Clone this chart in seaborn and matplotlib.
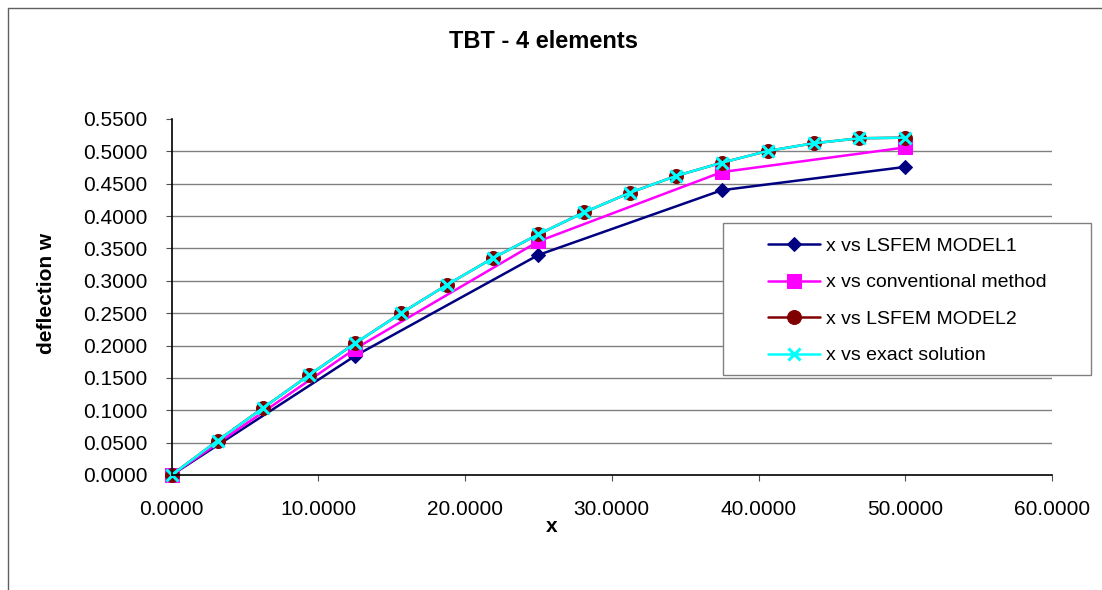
import matplotlib
matplotlib.use('Agg')
import matplotlib.pyplot as plt
import seaborn as sns
from matplotlib.patches import Rectangle
from matplotlib.lines import Line2D

# ---- data ----
x_coarse = [0.0, 12.5, 25.0, 37.5, 50.0]
x_fine = [0.0, 3.125, 6.25, 9.375, 12.5, 15.625, 18.75, 21.875, 25.0,
          28.125, 31.25, 34.375, 37.5, 40.625, 43.75, 46.875, 50.0]
lsfem_model1 = [0.0, 0.184, 0.340, 0.440, 0.476]
conventional = [0.0, 0.195, 0.361, 0.468, 0.506]
lsfem_model2 = [0.0, 0.053, 0.104, 0.1545, 0.2035, 0.2498, 0.2936, 0.3348, 0.3719,
                0.4059, 0.4362, 0.4620, 0.4825, 0.5006, 0.5125, 0.5202, 0.5212]
exact_solution = [0.0, 0.053, 0.104, 0.1545, 0.2035, 0.2498, 0.2936, 0.3348, 0.3719,
                  0.4059, 0.4362, 0.4620, 0.4825, 0.5006, 0.5125, 0.5202, 0.5212]
x_ticks = [0, 10, 20, 30, 40, 50, 60]
y_ticks = [0.0, 0.05, 0.10, 0.15, 0.20, 0.25, 0.30, 0.35, 0.40, 0.45, 0.50, 0.55]
series_labels = ["x vs LSFEM MODEL1", "x vs conventional method",
                 "x vs LSFEM MODEL2", "x vs exact solution"]

sns.set_theme(style='white')
plt.rcParams['font.family'] = ['Liberation Sans', 'DejaVu Sans']
plt.rcParams['text.color'] = 'black'
plt.rcParams['axes.labelcolor'] = 'black'
plt.rcParams['xtick.color'] = 'black'
plt.rcParams['ytick.color'] = 'black'

W, H = 1102, 590
fig = plt.figure(figsize=(W / 100, H / 100), dpi=100)
fig.patch.set_facecolor('white')


def fx(px):
    return px / W


def fy(py):
    return 1 - py / H


L, R, T, B = 171.7, 1051.9, 119.0, 475.0
ax = fig.add_axes([fx(L), fy(B), (R - L) / W, (B - T) / H])
ax.set_facecolor('white')

sns.lineplot(x=x_coarse, y=lsfem_model1, ax=ax, color='#000080', marker='D',
             markersize=7, markeredgecolor='#000080', linewidth=1.8,
             label=series_labels[0], clip_on=False)
sns.lineplot(x=x_coarse, y=conventional, ax=ax, color='#FF00FF', marker='s',
             markersize=9.5, markeredgecolor='#FF00FF', linewidth=1.8,
             label=series_labels[1], clip_on=False)
sns.lineplot(x=x_fine, y=lsfem_model2, ax=ax, color='#800000', marker='o',
             markersize=10, markeredgecolor='#800000', linewidth=1.8,
             label=series_labels[2], clip_on=False)
sns.lineplot(x=x_fine, y=exact_solution, ax=ax, color='#00FFFF', marker='x',
             markersize=9, markeredgecolor='#00FFFF', markeredgewidth=2.2,
             linewidth=1.8, label=series_labels[3], clip_on=False)

ax.set_xlim(0, 60)
ax.set_ylim(0, 0.55)
ax.set_xticks(x_ticks)
ax.set_xticklabels([f'{v:.4f}' for v in x_ticks], fontsize=15, color='black')
ax.set_yticks(y_ticks)
ax.set_yticklabels([f'{v:.4f}' for v in y_ticks], fontsize=15, color='black')
ax.set_xlabel('')
ax.set_ylabel('')

ax.grid(axis='y', color='#808080', linewidth=1)
ax.grid(axis='x', visible=False)
ax.set_axisbelow(True)
ax.yaxis.get_gridlines()[-1].set_visible(False)
ax.yaxis.get_gridlines()[0].set_visible(False)

for s in ['top', 'right']:
    ax.spines[s].set_visible(False)
for s in ['left', 'bottom']:
    ax.spines[s].set_color('black')
    ax.spines[s].set_linewidth(1.2)

ax.tick_params(axis='both', which='major', direction='out', length=4.3,
               width=0.8, color='#505050', bottom=True, left=True, labelcolor='black')
ax.tick_params(axis='x', pad=14)
ax.tick_params(axis='y', pad=13)

handles, labels = ax.get_legend_handles_labels()
if ax.get_legend() is not None:
    ax.get_legend().remove()

# legend box
box = Rectangle((fx(723), fy(375)), (1091 - 723) / W, (375 - 223) / H,
                transform=fig.transFigure, facecolor='white', edgecolor='#808080',
                linewidth=1, zorder=2)
fig.add_artist(box)
leg = fig.legend(handles, labels, loc='center left',
                 bbox_to_anchor=(fx(768), fy(300.8)), bbox_transform=fig.transFigure,
                 frameon=False, fontsize=14, handlelength=2.68, handletextpad=0.3,
                 labelspacing=0.97, borderpad=0, borderaxespad=0, labelcolor='black')
leg.set_zorder(5)

# chart area border
fig.add_artist(Line2D([fx(7.5), fx(7.5)], [fy(7.5), 0], transform=fig.transFigure,
                      color='#606060', linewidth=1))
fig.add_artist(Line2D([fx(7.5), 1], [fy(7.5), fy(7.5)], transform=fig.transFigure,
                      color='#606060', linewidth=1))

fig.text(fx(543.5), fy(42), 'TBT - 4 elements', ha='center', va='center',
         fontsize=17, fontweight='bold', color='black')
fig.text(fx(47), fy(293), 'deflection w', rotation=90, ha='center', va='center',
         fontsize=15, fontweight='bold', color='black')
fig.text(fx(551.7), fy(527), 'x', ha='center', va='center',
         fontsize=15, fontweight='bold', color='black')

fig.savefig('out.png', dpi=100, facecolor='white')
